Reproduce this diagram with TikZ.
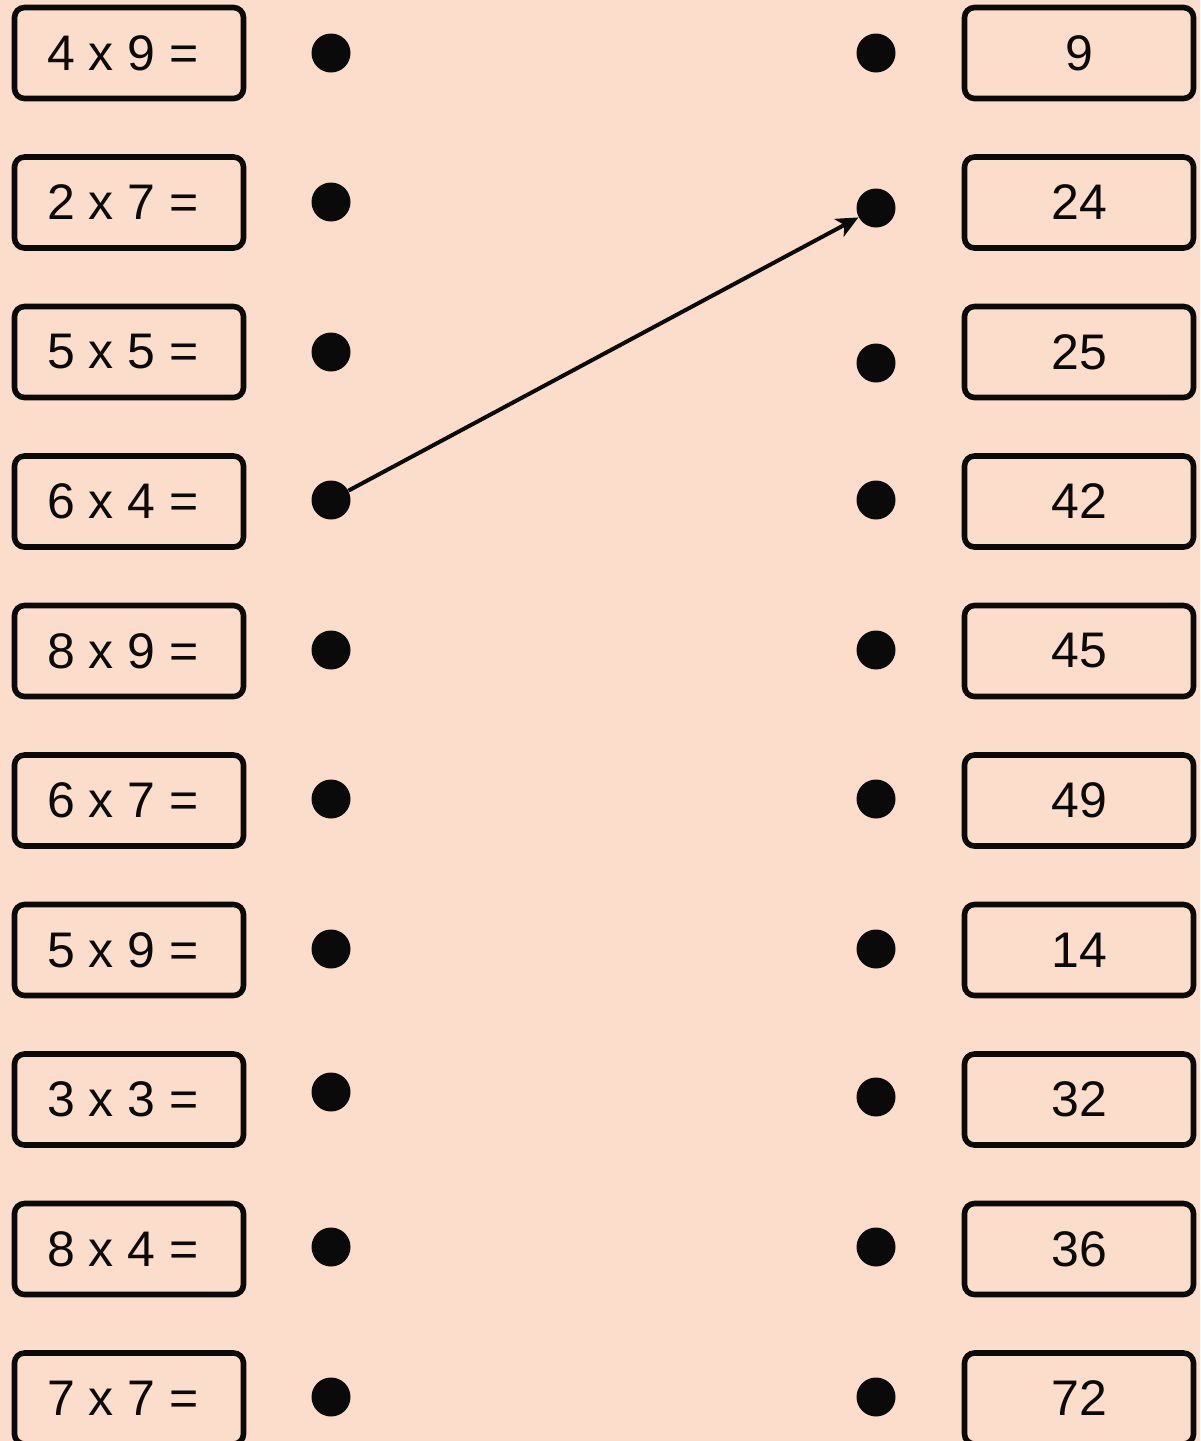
\documentclass[tikz,border=0pt]{standalone}
\usepackage{fontspec}
\setmainfont{Liberation Sans}
\usetikzlibrary{arrows.meta}
\definecolor{peach}{RGB}{252,221,204}
\definecolor{ink}{RGB}{10,10,10}
\begin{document}
\begin{tikzpicture}[x=0.5pt,y=-0.5pt,
  boxnode/.style={draw=ink,line width=2.8pt,rounded corners=5pt,fill=peach,
    minimum width=114.5pt,minimum height=45.5pt,inner sep=0pt},
  lbl/.style={font=\fontsize{25}{30}\selectfont,text=ink,inner sep=0pt},
  dotnode/.style={circle,fill=ink,minimum size=19.5pt,inner sep=0pt},
  link/.style={draw=ink,line width=2pt,-{Stealth[length=11pt,width=10pt,inset=3pt]}}]
\fill[peach] (0,0) rectangle (1200,1441);
\useasboundingbox (0,0) rectangle (1200,1441);
% left column
\foreach \i/\t/\dy in {1/4 x 9 =/53, 2/2 x 7 =/202, 3/5 x 5 =/352, 4/6 x 4 =/500,
    5/8 x 9 =/650, 6/6 x 7 =/799, 7/5 x 9 =/949, 8/3 x 3 =/1092, 9/8 x 4 =/1247, 10/7 x 7 =/1397} {
  \pgfmathsetmacro{\yc}{53+149.5*(\i-1)}
  \node[boxnode] (lb\i) at (129,\yc) {};
  \node[lbl] (lt\i) at (123,\yc) {\t};
  \node[dotnode] (ld\i) at (331,\dy) {};
}
% right column
\foreach \i/\t/\dy in {1/9/53, 2/24/208, 3/25/363, 4/42/500, 5/45/650,
    6/49/799, 7/14/949, 8/32/1097, 9/36/1247, 10/72/1397} {
  \pgfmathsetmacro{\yc}{53+149.5*(\i-1)}
  \node[boxnode] (rb\i) at (1079,\yc) {};
  \node[lbl] (rt\i) at (1079,\yc) {\t};
  \node[dotnode] (rd\i) at (876,\dy) {};
}
\draw[link] (ld4) -- (rd2);
\end{tikzpicture}
\end{document}
